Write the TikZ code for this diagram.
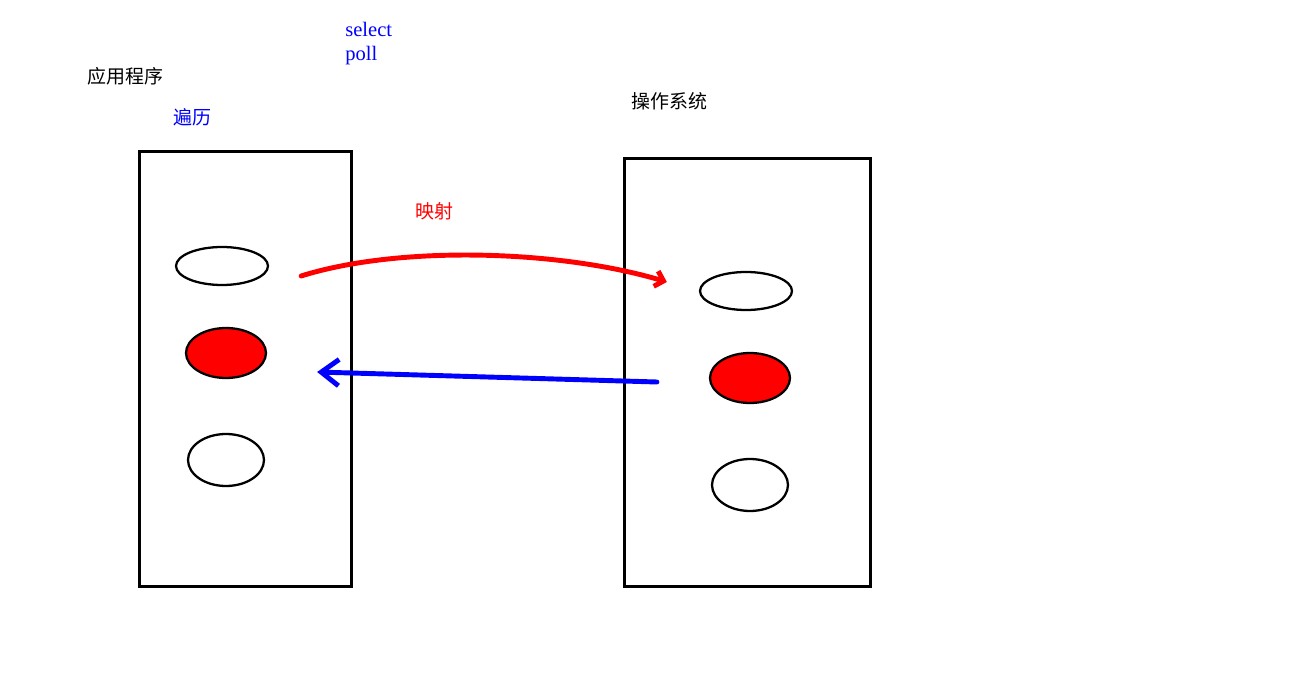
\documentclass[tikz,border=0pt]{standalone}
\usepackage{fontspec}
\setmainfont{Liberation Serif}
\newfontfamily\cjkfont{Noto Sans CJK SC}
\usepackage{xcolor}
\definecolor{mapred}{RGB}{255, 0, 0}
\definecolor{iterblue}{RGB}{0, 0, 255}
\usetikzlibrary{arrows.meta, positioning, shapes.geometric, calc}

\begin{document}
\begin{tikzpicture}[
    x=0.02cm, y=-0.02cm,
    box/.style={draw, line width=1.7pt, inner sep=0pt},
    fd/.style={draw, ellipse, line width=1.3pt, inner sep=0pt, minimum width=1.84cm, minimum height=0.76cm},
    hotfd/.style={fd, fill=mapred, minimum width=1.6cm, minimum height=1cm},
    idlefd/.style={fd, minimum width=1.52cm, minimum height=1.04cm},
    label/.style={font=\cjkfont\fontsize{10.8}{13}\selectfont, inner sep=0pt}
]
\useasboundingbox (0,0) rectangle (1289,682);

% Application side
\node[box, minimum width=4.26cm, minimum height=8.72cm] (app) at (245.5,369) {};
\node[label, anchor=west] (apptitle) at (87,76) {应用程序};
\node[label, anchor=west, text=iterblue] (walk) at (173,117) {遍历};
\node[fd] (appA) at (222,266) {};
\node[hotfd] (appB) at (226,353) {};
\node[idlefd] (appC) at (226,460) {};

% Operating system side
\node[box, minimum width=4.94cm, minimum height=8.58cm] (os) at (747.5,372.5) {};
\node[label, anchor=west] (ostitle) at (631,101) {操作系统};
\node[fd] (osA) at (746,291) {};
\node[hotfd] (osB) at (750,378) {};
\node[idlefd] (osC) at (750,485) {};

% select / poll
\node[anchor=north west, align=left, text=iterblue, inner sep=0pt,
      font=\fontsize{11.7}{13.6}\selectfont] (syscall) at (345,22) {select\\poll};

% Mapping arrow
\node[label, text=mapred] (maplabel) at (434,211) {映射};
\coordinate (mapfrom) at ($(appA.east)+(32,10)$);
\coordinate (mapto) at ($(osA.west)+(-32,-9)$);
\draw[mapred, line width=2.8pt, line cap=round, -{Straight Barb[length=4.5pt, width=9pt]}]
    (mapfrom) .. controls (400,245) and (560,250) .. (mapto);

% Ready event back to the application
\coordinate (readyfrom) at ($(osB.west)+(-52,4)$);
\coordinate (readyto) at ($(appB.east)+(50,19)$);
\draw[iterblue, line width=2.8pt, line cap=round, -{Straight Barb[length=10pt, width=15pt]}]
    (readyfrom) -- (readyto);

\end{tikzpicture}
\end{document}
